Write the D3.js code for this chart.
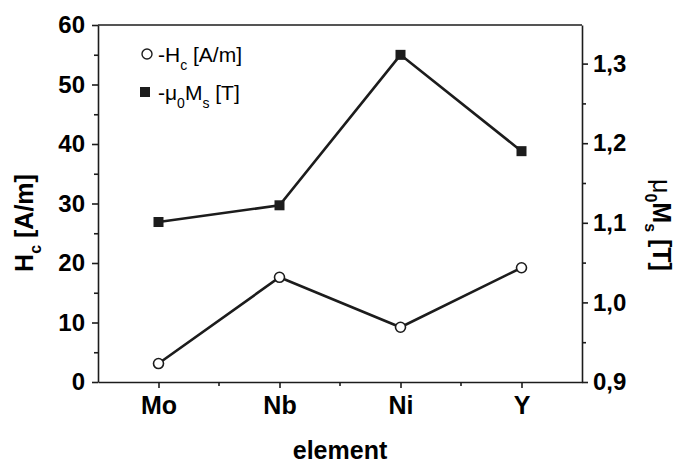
<!DOCTYPE html>
<html>
<head>
<meta charset="utf-8">
<script src="https://cdn.jsdelivr.net/npm/d3@7"></script>
<style>
  body { margin: 0; background: #fff; }
  svg { display: block; font-family: "Liberation Sans", Arial, sans-serif; }
</style>
</head>
<body>
<svg id="chart" width="678" height="463"></svg>
<script>
// Data
const elements = ["Mo", "Nb", "Ni", "Y"];
const hcValues = [3.1, 17.6, 9.2, 19.2];       // Hc [A/m], left axis
const msValues = [1.101, 1.122, 1.311, 1.190]; // mu0 Ms [T], right axis
const leftTicks = [0, 10, 20, 30, 40, 50, 60];
const rightTicks = [0.9, 1.0, 1.1, 1.2, 1.3];

const svg = d3.select("#chart");
const margin = { top: 25, right: 96, bottom: 81, left: 98 };
const width = 678 - margin.left - margin.right;
const height = 463 - margin.top - margin.bottom;
const ink = "#1c1c1c";

const x = d3.scalePoint().domain(elements).range([margin.left, margin.left + width]).padding(0.5);
const yLeft = d3.scaleLinear().domain([0, 60]).range([margin.top + height, margin.top]);
const yRight = d3.scaleLinear().domain([0.9, 1.3485]).range([margin.top + height, margin.top]);

const comma = d => d3.format(".1f")(d).replace(".", ",");

// Axes
function styleAxis(g) {
  g.selectAll("path, line").attr("stroke", ink).attr("stroke-width", 1.6);
  g.selectAll("text").attr("fill", "#000").attr("font-weight", "bold");
}

svg.append("g")
  .attr("transform", `translate(${margin.left},0)`)
  .call(d3.axisLeft(yLeft).tickValues(leftTicks).tickSize(6).tickSizeOuter(0).tickPadding(7))
  .call(styleAxis)
  .call(g => g.selectAll("text").attr("font-size", 24));

svg.append("g")
  .attr("transform", `translate(${margin.left},0)`)
  .call(d3.axisLeft(yLeft).tickValues(d3.range(5, 60, 10)).tickSize(4).tickFormat(""))
  .call(styleAxis)
  .call(g => g.select(".domain").remove());

svg.append("g")
  .attr("transform", `translate(${margin.left + width},0)`)
  .call(d3.axisRight(yRight).tickValues(rightTicks).tickSize(6).tickSizeOuter(0).tickPadding(5).tickFormat(comma))
  .call(styleAxis)
  .call(g => g.selectAll("text").attr("font-size", 24));

svg.append("g")
  .attr("transform", `translate(${margin.left + width},0)`)
  .call(d3.axisRight(yRight).tickValues([0.95, 1.05, 1.15, 1.25]).tickSize(4).tickFormat(""))
  .call(styleAxis)
  .call(g => g.select(".domain").remove());

svg.append("g")
  .attr("transform", `translate(0,${margin.top + height})`)
  .call(d3.axisBottom(x).tickSize(6).tickSizeOuter(0).tickPadding(8))
  .call(styleAxis)
  .call(g => g.selectAll("text").attr("font-size", 25));

// minor ticks halfway between categories
const step = x.step();
svg.append("g")
  .selectAll("line")
  .data(elements.slice(1))
  .join("line")
  .attr("x1", d => x(d) - step / 2)
  .attr("x2", d => x(d) - step / 2)
  .attr("y1", margin.top + height)
  .attr("y2", margin.top + height + 4)
  .attr("stroke", ink)
  .attr("stroke-width", 1.6);

// top frame line
svg.append("line")
  .attr("x1", margin.left).attr("x2", margin.left + width)
  .attr("y1", margin.top).attr("y2", margin.top)
  .attr("stroke", ink).attr("stroke-width", 1.6);

// Series lines
const hcData = elements.map((e, i) => ({ e, v: hcValues[i] }));
const msData = elements.map((e, i) => ({ e, v: msValues[i] }));

svg.append("path")
  .datum(hcData)
  .attr("fill", "none").attr("stroke", ink).attr("stroke-width", 2.6)
  .attr("d", d3.line().x(d => x(d.e)).y(d => yLeft(d.v)));

svg.append("path")
  .datum(msData)
  .attr("fill", "none").attr("stroke", ink).attr("stroke-width", 2.6)
  .attr("d", d3.line().x(d => x(d.e)).y(d => yRight(d.v)));

svg.selectAll(".hc")
  .data(hcData)
  .join("circle")
  .attr("class", "hc")
  .attr("cx", d => x(d.e)).attr("cy", d => yLeft(d.v)).attr("r", 5)
  .attr("fill", "#fff").attr("stroke", ink).attr("stroke-width", 1.6);

svg.selectAll(".ms")
  .data(msData)
  .join("rect")
  .attr("class", "ms")
  .attr("x", d => x(d.e) - 5).attr("y", d => yRight(d.v) - 5)
  .attr("width", 10).attr("height", 10)
  .attr("fill", ink);

// Legend
const legend = svg.append("g");
legend.append("circle").attr("cx", 147).attr("cy", 54).attr("r", 5)
  .attr("fill", "#fff").attr("stroke", ink).attr("stroke-width", 1.4);
const l1 = legend.append("text").attr("x", 158).attr("y", 62).attr("font-size", 21);
l1.append("tspan").text("-H");
l1.append("tspan").attr("font-size", 14).attr("dy", 8).text("c");
l1.append("tspan").attr("dy", -8).text(" [A/m]");

legend.append("rect").attr("x", 140).attr("y", 87).attr("width", 10).attr("height", 10).attr("fill", ink);
const l2 = legend.append("text").attr("x", 158).attr("y", 100).attr("font-size", 21);
l2.append("tspan").text("-\u03bc");
l2.append("tspan").attr("font-size", 14).attr("dy", 8).text("0");
l2.append("tspan").attr("dy", -8).text("M");
l2.append("tspan").attr("font-size", 14).attr("dy", 8).text("s");
l2.append("tspan").attr("dy", -8).text(" [T]");

// Axis titles
const leftTitle = svg.append("text")
  .attr("transform", "translate(33,223) rotate(-90)")
  .attr("text-anchor", "middle")
  .attr("font-size", 25).attr("font-weight", "bold");
leftTitle.append("tspan").text("H");
leftTitle.append("tspan").attr("font-size", 16).attr("dy", 8).text("c");
leftTitle.append("tspan").attr("dy", -8).text(" [A/m]");

const rightTitle = svg.append("text")
  .attr("transform", "translate(653,225) rotate(90)")
  .attr("text-anchor", "middle")
  .attr("font-size", 25).attr("font-weight", "bold");
rightTitle.append("tspan").attr("font-weight", "normal").text("\u03bc");
rightTitle.append("tspan").attr("font-size", 16).attr("dy", 8).text("0");
rightTitle.append("tspan").attr("dy", -8).text("M");
rightTitle.append("tspan").attr("font-size", 16).attr("dy", 8).text("s");
rightTitle.append("tspan").attr("dy", -8).text(" [T]");

svg.append("text")
  .attr("x", margin.left + width / 2).attr("y", 459)
  .attr("text-anchor", "middle")
  .attr("font-size", 25).attr("font-weight", "bold")
  .text("element");
</script>
</body>
</html>
